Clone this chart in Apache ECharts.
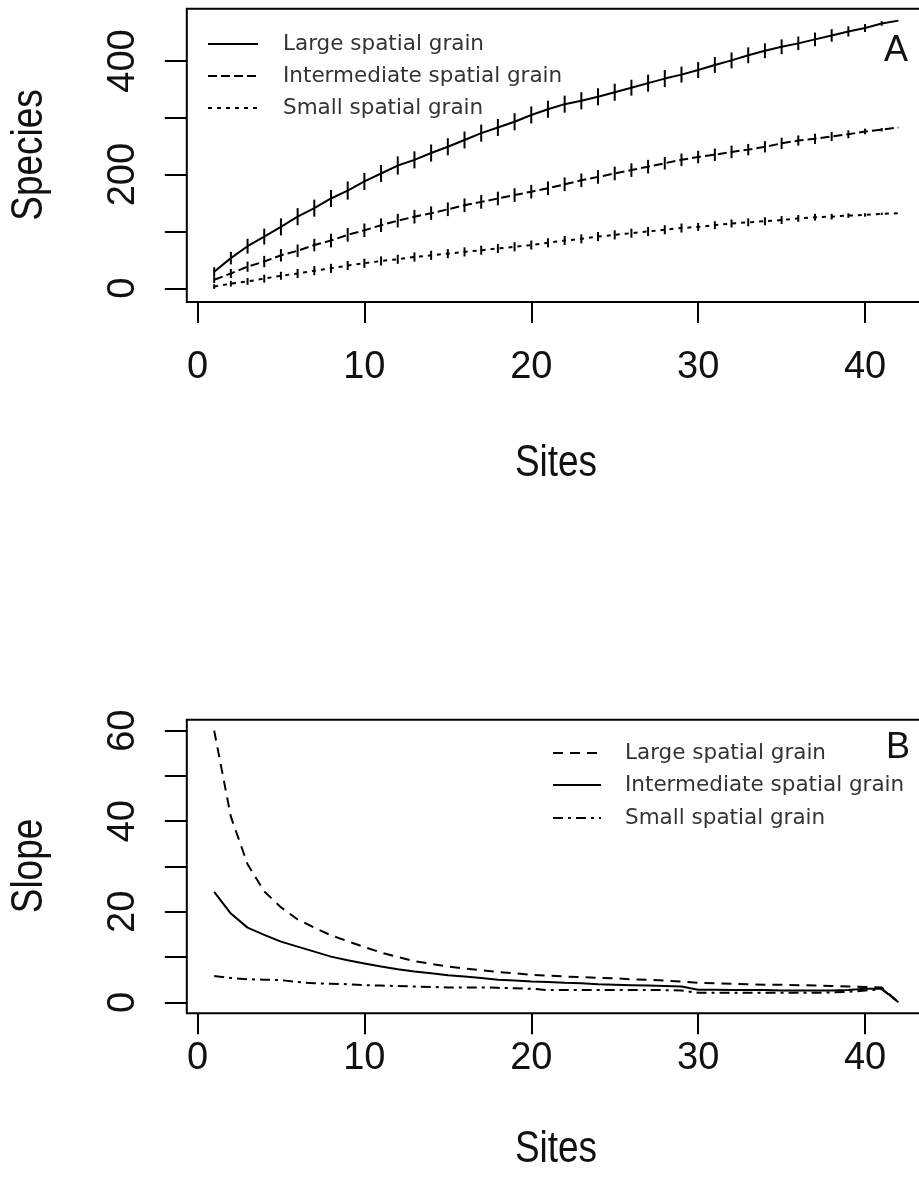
<!DOCTYPE html>
<html>
<head>
<meta charset="utf-8">
<script src="https://cdn.jsdelivr.net/npm/echarts@6/dist/echarts.min.js"></script>
<style>
  html, body { margin: 0; padding: 0; background: #fff; }
  #chart { width: 919px; height: 1196px; }
</style>
</head>
<body>
<div id="chart"></div>
<script>
// Species accumulation (panel A) and its slope (panel B) over sampled sites
const sites = [1, 2, 3, 4, 5, 6, 7, 8, 9, 10, 11, 12, 13, 14, 15, 16, 17, 18, 19, 20,
  21, 22, 23, 24, 25, 26, 27, 28, 29, 30, 31, 32, 33, 34, 35, 36, 37, 38, 39, 40, 41, 42];

const grainNames = ['Large spatial grain', 'Intermediate spatial grain', 'Small spatial grain'];

// Panel A: accumulated species richness
const speciesLarge = [29, 53, 74, 91, 108, 126, 141, 158, 172, 188,
  202, 216, 226, 238, 249, 261, 273, 283, 293, 305,
  315, 324, 330, 337, 345, 353, 361, 369, 376, 384,
  393, 401, 410, 418, 425, 431, 438, 445, 452, 458,
  466, 471];
const speciesIntermediate = [15, 26, 38, 47, 58, 66, 76, 84, 94, 102,
  111, 119, 126, 132, 139, 146, 152, 158, 164, 170,
  176, 183, 190, 196, 202, 208, 214, 220, 226, 231,
  235, 240, 244, 249, 255, 260, 263, 267, 271, 276,
  279, 283];
const speciesSmall = [3, 8, 12, 17, 22, 26, 31, 35, 40, 44,
  48, 51, 55, 58, 61, 64, 67, 70, 73, 76,
  80, 84, 87, 91, 94, 97, 100, 103, 106, 108,
  111, 114, 116, 118, 120, 123, 125, 126, 128, 129,
  131, 132];

// Panel A: half-length of the confidence bars
const barLarge = [8, 11, 13, 14, 15, 15, 15, 15, 16, 15,
  15, 16, 15, 15, 15, 15, 15, 15, 15, 15,
  15, 15, 15, 15, 15, 14, 15, 15, 14, 14,
  14, 14, 14, 13, 13, 12, 12, 11, 9, 7,
  4, 0];
const barIntermediate = [6, 8, 9, 10, 11, 11, 11, 12, 12, 12,
  12, 12, 12, 12, 12, 12, 12, 12, 12, 12,
  12, 12, 12, 12, 12, 12, 12, 11, 11, 11,
  11, 11, 10, 10, 10, 9, 9, 8, 7, 5,
  3, 0];
const barSmall = [4, 5, 6, 7, 7, 8, 8, 8, 8, 8,
  8, 8, 8, 8, 8, 8, 8, 8, 8, 8,
  8, 8, 8, 8, 8, 8, 8, 8, 8, 7,
  7, 7, 7, 7, 7, 6, 6, 5, 4, 3,
  2, 0];

// Panel B: slope of the accumulation curves
const slopeLarge = [60, 41, 30.5, 24.5, 21, 18.3, 16.5, 14.8, 13.5, 12.2,
  11, 10, 9.1, 8.5, 7.9, 7.5, 7.1, 6.7, 6.4, 6.1,
  5.9, 5.7, 5.6, 5.4, 5.3, 5.1, 5.0, 4.8, 4.6, 4.3,
  4.2, 4.1, 4.0, 3.9, 3.9, 3.8, 3.7, 3.6, 3.5, 3.4,
  3.3, 0];
const slopeIntermediate = [24.4, 19.6, 16.5, 14.9, 13.4, 12.3, 11.2, 10.1, 9.3, 8.6,
  7.9, 7.3, 6.8, 6.4, 6.0, 5.7, 5.4, 5.0, 4.8, 4.6,
  4.5, 4.3, 4.2, 4.0, 3.9, 3.8, 3.7, 3.6, 3.5, 2.8,
  2.8, 2.7, 2.7, 2.7, 2.6, 2.6, 2.6, 2.6, 2.7, 3.0,
  3.0, 0];
const slopeSmall = [5.8, 5.4, 5.1, 5.0, 4.9, 4.5, 4.2, 4.1, 4.0, 3.8,
  3.7, 3.6, 3.5, 3.4, 3.3, 3.3, 3.3, 3.2, 3.1, 3.0,
  2.7, 2.7, 2.7, 2.7, 2.7, 2.7, 2.7, 2.7, 2.6, 2.1,
  2.1, 2.1, 2.1, 2.1, 2.1, 2.1, 2.1, 2.2, 2.3, 2.6,
  2.9, 0];

// Tick positions and labels
const siteTicks = [0, 10, 20, 30, 40];
const speciesTicks = [0, 100, 200, 300, 400];
const speciesLabels = [0, 200, 400];
const slopeTicks = [0, 10, 20, 30, 40, 50, 60];
const slopeLabels = [0, 20, 40, 60];

const AXIS_FONT = "'Liberation Sans', Arial, sans-serif";
const LEGEND_FONT = "'DejaVu Sans', sans-serif";
const INK = '#111';

// line dash patterns
const DASH_A = { solid: 'solid', dashed: [9, 4], dotted: [4, 5] };
const DASH_B = { dashed: [10, 7], solid: 'solid', dotdash: [10, 5, 3, 5] };

const pairs = (vals) => sites.map((s, i) => [s, vals[i]]);

function xAxisFor(gridIndex, labelMargin) {
  return {
    type: 'value', gridIndex, min: -0.64, max: 43.64,
    axisLine: { show: false, onZero: false },
    splitLine: { show: false },
    axisTick: { show: true, length: 21, customValues: siteTicks, lineStyle: { color: '#000', width: 2 } },
    axisLabel: { customValues: siteTicks, margin: labelMargin, color: INK, fontSize: 38, fontFamily: AXIS_FONT }
  };
}

function yAxisFor(gridIndex, min, max, ticks, labels) {
  return {
    type: 'value', gridIndex, min, max,
    axisLine: { show: false, onZero: false },
    splitLine: { show: false },
    axisTick: { show: true, length: 22, customValues: ticks, lineStyle: { color: '#000', width: 2 } },
    axisLabel: { customValues: labels, rotate: 90, margin: 44, color: INK, fontSize: 38, fontFamily: AXIS_FONT }
  };
}

function lineSeries(name, idx, vals, dash) {
  return {
    name, type: 'line', xAxisIndex: idx, yAxisIndex: idx, data: pairs(vals),
    showSymbol: false, symbol: 'none', animation: false, silent: true,
    lineStyle: { color: '#000', width: 2, type: dash }, z: 3
  };
}

// vertical confidence bar at every site
function barsSeries(name, vals, half) {
  return {
    name: name + ' bars', type: 'custom', xAxisIndex: 0, yAxisIndex: 0,
    data: sites.map((s, i) => [s, vals[i], half[i]]),
    animation: false, silent: true, z: 4,
    renderItem(params, api) {
      const x = api.value(0), y = api.value(1), d = api.value(2);
      if (!d) return null;
      const p1 = api.coord([x, y - d]);
      const p2 = api.coord([x, y + d]);
      return { type: 'line', shape: { x1: p1[0], y1: p1[1], x2: p2[0], y2: p2[1] },
        style: { stroke: '#000', lineWidth: 2 } };
    }
  };
}

function legendBlock(x1, x2, textX, rows, dashes) {
  const els = [];
  rows.forEach((y, i) => {
    els.push({ type: 'line', shape: { x1, y1: y, x2, y2: y },
      style: { stroke: '#000', lineWidth: 2, lineDash: dashes[i] === 'solid' ? null : dashes[i] } });
    els.push({ type: 'text', x: textX, y,
      style: { text: grainNames[i], fill: '#333', fontSize: 21.5, fontFamily: LEGEND_FONT,
        align: 'left', verticalAlign: 'middle' } });
  });
  return els;
}

// axis titles are drawn slightly condensed
function title(text, x, y, rotated, size, family, squeeze) {
  return { type: 'text', x, y, rotation: rotated ? Math.PI / 2 : 0, scaleX: squeeze || 1,
    style: { text, fill: INK, fontSize: size, fontFamily: family, align: 'center', verticalAlign: 'middle' } };
}

const chart = echarts.init(document.getElementById('chart'), null, { renderer: 'canvas' });

const gridA = { left: 186.8, top: 8.7, width: 739, height: 293.2 };
const gridB = { left: 186.8, top: 719.8, width: 739, height: 293.4 };
const gridStyle = { show: true, borderColor: '#000', borderWidth: 2, backgroundColor: 'transparent',
  outerBoundsMode: 'none', containLabel: false };

chart.setOption({
  backgroundColor: '#fff',
  animation: false,
  grid: [Object.assign({}, gridStyle, gridA), Object.assign({}, gridStyle, gridB)],
  xAxis: [xAxisFor(0, 47), xAxisFor(1, 26)],
  yAxis: [
    yAxisFor(0, -24, 492, speciesTicks, speciesLabels),
    yAxisFor(1, -2.4, 62.4, slopeTicks, slopeLabels)
  ],
  series: [
    lineSeries(grainNames[0], 0, speciesLarge, DASH_A.solid),
    lineSeries(grainNames[1], 0, speciesIntermediate, DASH_A.dashed),
    lineSeries(grainNames[2], 0, speciesSmall, DASH_A.dotted),
    barsSeries(grainNames[0], speciesLarge, barLarge),
    barsSeries(grainNames[1], speciesIntermediate, barIntermediate),
    barsSeries(grainNames[2], speciesSmall, barSmall),
    lineSeries(grainNames[0], 1, slopeLarge, DASH_B.dashed),
    lineSeries(grainNames[1], 1, slopeIntermediate, DASH_B.solid),
    lineSeries(grainNames[2], 1, slopeSmall, DASH_B.dotdash)
  ],
  graphic: [].concat(
    legendBlock(208, 258, 283, [44, 76, 108], [DASH_A.solid, DASH_A.dashed, DASH_A.dotted]),
    legendBlock(553, 601, 625, [753, 785, 818], [DASH_B.dashed, DASH_B.solid, DASH_B.dotdash]),
    [
      title('A', 896, 51, false, 36, "'Liberation Sans', Arial, sans-serif"),
      title('B', 898, 748, false, 36, "'Liberation Sans', Arial, sans-serif"),
      title('Species', 30, 155, true, 44, AXIS_FONT, 0.84),
      title('Sites', 556, 464, false, 44, AXIS_FONT, 0.84),
      title('Slope', 30, 866, true, 44, AXIS_FONT, 0.84),
      title('Sites', 556, 1150, false, 44, AXIS_FONT, 0.84)
    ]
  )
});
</script>
</body>
</html>
